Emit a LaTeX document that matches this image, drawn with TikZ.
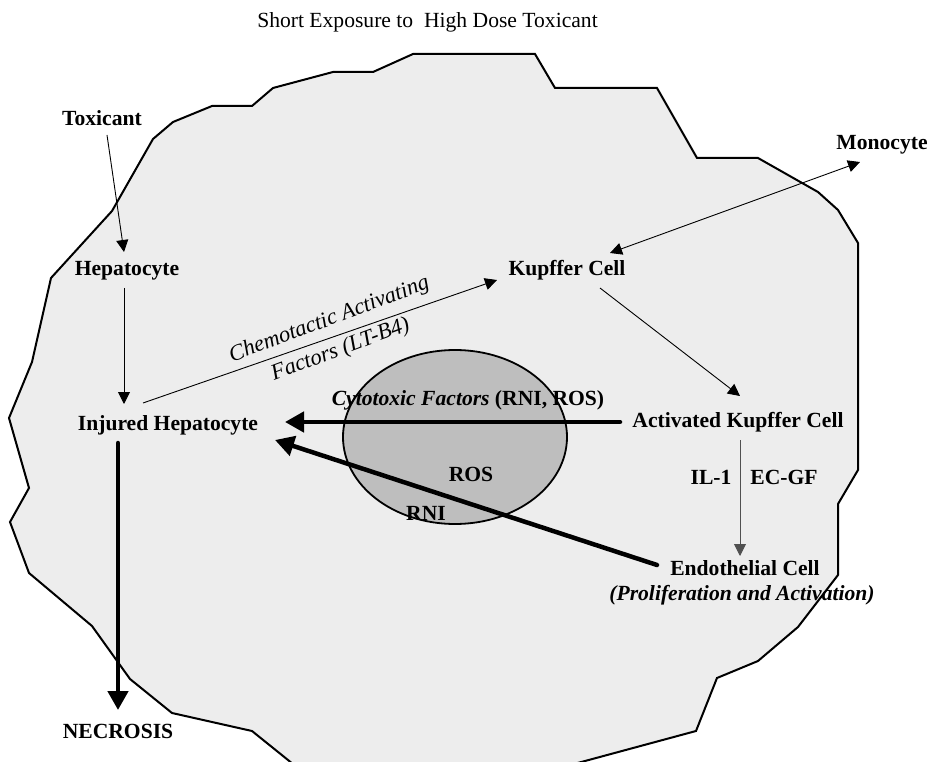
\documentclass[tikz,border=0pt]{standalone}
\usepackage{fontspec}
\setmainfont{Liberation Serif}
\usetikzlibrary{arrows.meta,calc}
\definecolor{cellfill}{HTML}{EDEDED}
\definecolor{nucfill}{HTML}{BEBEBE}
\definecolor{grayarrow}{HTML}{505050}
\begin{document}
\begin{tikzpicture}[x=1pt,y=-1pt,
  lbl/.style={anchor=base,inner sep=0pt,font=\fontsize{21.6}{26}\selectfont\bfseries},
  rlbl/.style={anchor=base,inner sep=0pt,font=\fontsize{21.6}{26}\selectfont},
  chem/.style={anchor=center,inner sep=0pt,rotate=20.5,align=center,font=\fontsize{22.5}{32}\selectfont\itshape},
  thinarrow/.style={line width=0.9pt,-{Triangle[length=12pt,width=12pt]}},
  thinboth/.style={line width=0.9pt,{Triangle[length=12pt,width=12pt]}-{Triangle[length=12pt,width=12pt]}},
  thickarrow/.style={line width=4.5pt,line cap=round,-{Triangle[length=19pt,width=20pt]}},
  cellline/.style={line width=2pt,line join=miter,draw=black,fill=cellfill},
  nucline/.style={line width=1.8pt,draw=black,fill=nucfill}
]
\clip (0,0) rectangle (930,762);
\fill[white] (0,0) rectangle (930,762);
% cell outline
\path[cellline] (413,54) -- (373,72) -- (333,72) -- (273,88) -- (252,106) -- (212,106)
  -- (173,122) -- (153,139) -- (112,211) -- (51,278) -- (32,362) -- (9,418)
  -- (29,488) -- (10,522) -- (29,573) -- (92,626) -- (130,679) -- (172,713)
  -- (252,731) -- (288,760) -- (306,775) -- (533,775) -- (585,761) -- (696,731)
  -- (717,678) -- (758,661) -- (798,627) -- (838,575) -- (838,504) -- (858,470)
  -- (858,243) -- (838,210) -- (818,192) -- (758,158) -- (697,158) -- (657,88)
  -- (555,88) -- (535,54) -- cycle;
% nucleus
\path[nucline] (455,437) ellipse [x radius=112, y radius=87];
% title
\node[rlbl] (title) at (427.5,28) {Short Exposure to\ \ High Dose Toxicant};
% labels
\node[lbl] (tox) at (102,126) {Toxicant};
\node[lbl] (hep) at (127,276) {Hepatocyte};
\node[lbl] (inj) at (168,430) {Injured Hepatocyte};
\node[lbl] (nec) at (118,738) {NECROSIS};
\node[lbl] (kup) at (567,276) {Kupffer Cell};
\node[lbl] (mono) at (882,150) {Monocyte};
\node[lbl] (act) at (738,428) {Activated Kupffer Cell};
\node[lbl] (il) at (711,484) {IL-1};
\node[lbl] (ecgf) at (784,484) {EC-GF};
\node[lbl] (endo) at (745,575) {Endothelial Cell};
\node[lbl] (prolif) at (742,600) {\itshape (Proliferation and Activation)};
\node[lbl] (cyto) at (468,405) {\itshape Cytotoxic Factors\upshape\ (RNI, ROS)};
\node[lbl] (ros) at (471,481) {ROS};
\node[lbl] (rni) at (426,520) {RNI};
\node[chem] (chem) at (335,335) {Chemotactic Activating\\Factors (LT-B4)};
% connectors
\draw[thinarrow] ($(tox.base)+(5,9)$) -- ($(hep.base)+(-3,-24)$);
\draw[thinarrow] ($(hep.base)+(-3,12)$) -- ($(inj.base)+(-44,-26)$);
\draw[thinarrow] ($(inj.base)+(-25,-27)$) -- ($(kup.base)+(-70,4)$);
\draw[thinboth] ($(kup.base)+(43,-23)$) -- ($(mono.base)+(-22,12)$);
\draw[thinarrow] ($(kup.base)+(33,12)$) -- ($(act.base)+(2,-32)$);
\draw[thinarrow,draw=grayarrow] ($(act.base)+(2,12)$) -- ($(endo.base)+(-5,-19)$);
\draw[thickarrow] ($(act.base)+(-118,-6)$) -- ($(inj.base)+(117,-8)$);
\draw[thickarrow] ($(endo.base)+(-88,-10)$) -- ($(inj.base)+(107,10)$);
\draw[thickarrow] ($(inj.base)+(-50,13)$) -- ($(nec.base)+(0,-28)$);
\end{tikzpicture}
\end{document}
